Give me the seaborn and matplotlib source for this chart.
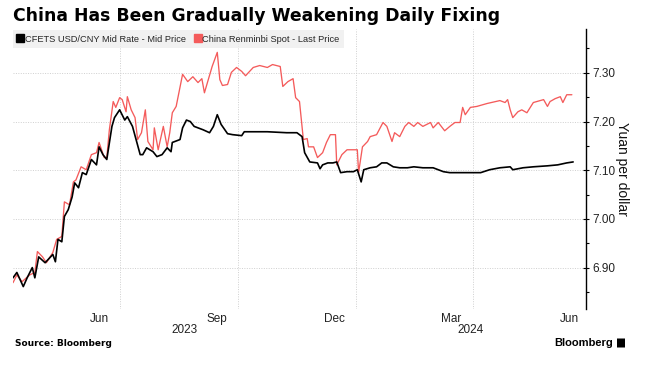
import matplotlib
matplotlib.use("Agg")
import matplotlib.pyplot as plt
import matplotlib.dates as mdates
import matplotlib.ticker as mticker
import matplotlib.transforms as mtransforms
from matplotlib.lines import Line2D
from matplotlib.patches import FancyBboxPatch
import pandas as pd
import seaborn as sns

# ---------------- data ----------------
mid_dates = ["2023-04-09", "2023-04-12", "2023-04-17", "2023-04-20", "2023-04-24", "2023-04-26",
             "2023-04-29", "2023-05-04", "2023-05-10", "2023-05-12", "2023-05-14", "2023-05-17",
             "2023-05-19", "2023-05-22", "2023-05-25", "2023-05-27", "2023-05-30", "2023-06-02",
             "2023-06-05", "2023-06-09", "2023-06-13", "2023-06-15", "2023-06-18", "2023-06-21",
             "2023-06-25", "2023-06-27", "2023-07-01", "2023-07-05", "2023-07-07", "2023-07-11",
             "2023-07-17", "2023-07-19", "2023-07-22", "2023-07-27", "2023-07-30", "2023-08-03",
             "2023-08-07", "2023-08-10", "2023-08-11", "2023-08-17", "2023-08-19", "2023-08-22",
             "2023-08-25", "2023-08-28", "2023-09-04", "2023-09-09", "2023-09-12", "2023-09-15",
             "2023-09-18", "2023-09-23", "2023-09-27", "2023-10-04", "2023-10-06", "2023-10-24",
             "2023-11-08", "2023-11-16", "2023-11-20", "2023-11-22", "2023-11-26", "2023-12-02",
             "2023-12-04", "2023-12-06", "2023-12-10", "2023-12-14", "2023-12-17", "2023-12-20",
             "2023-12-25", "2023-12-30", "2024-01-02", "2024-01-05", "2024-01-07", "2024-01-12",
             "2024-01-17", "2024-01-21", "2024-01-25", "2024-01-30", "2024-02-04", "2024-02-10",
             "2024-02-15", "2024-02-22", "2024-03-01", "2024-03-09", "2024-03-14", "2024-03-20",
             "2024-03-24", "2024-04-07", "2024-04-14", "2024-04-22", "2024-04-30", "2024-05-02",
             "2024-05-10", "2024-05-18", "2024-05-29", "2024-06-06", "2024-06-13", "2024-06-18"]
mid_values = [6.879, 6.890, 6.861, 6.879, 6.900, 6.879,
              6.922, 6.910, 6.927, 6.912, 6.958, 6.953,
              7.005, 7.019, 7.045, 7.074, 7.064, 7.095,
              7.091, 7.122, 7.111, 7.148, 7.132, 7.122,
              7.190, 7.208, 7.224, 7.203, 7.210, 7.190,
              7.132, 7.132, 7.146, 7.138, 7.128, 7.132,
              7.146, 7.138, 7.157, 7.163, 7.187, 7.203,
              7.200, 7.190, 7.183, 7.177, 7.190, 7.214,
              7.194, 7.175, 7.173, 7.171, 7.179, 7.179,
              7.177, 7.177, 7.169, 7.136, 7.117, 7.115,
              7.103, 7.111, 7.115, 7.115, 7.117, 7.095,
              7.097, 7.097, 7.101, 7.076, 7.101, 7.105,
              7.107, 7.115, 7.115, 7.107, 7.105, 7.105,
              7.107, 7.105, 7.105, 7.097, 7.095, 7.095,
              7.095, 7.095, 7.101, 7.105, 7.107, 7.101,
              7.105, 7.107, 7.109, 7.111, 7.115, 7.117]

spot_dates = ["2023-04-09", "2023-04-12", "2023-04-16", "2023-04-22", "2023-04-26", "2023-04-28",
              "2023-05-02", "2023-05-05", "2023-05-10", "2023-05-13", "2023-05-17", "2023-05-19",
              "2023-05-23", "2023-05-26", "2023-05-28", "2023-06-01", "2023-06-05", "2023-06-09",
              "2023-06-13", "2023-06-15", "2023-06-19", "2023-06-21", "2023-06-23", "2023-06-26",
              "2023-06-28", "2023-07-01", "2023-07-03", "2023-07-06", "2023-07-07", "2023-07-10",
              "2023-07-13", "2023-07-15", "2023-07-18", "2023-07-21", "2023-07-23", "2023-07-27",
              "2023-07-28", "2023-07-31", "2023-08-04", "2023-08-07", "2023-08-09", "2023-08-11",
              "2023-08-14", "2023-08-19", "2023-08-23", "2023-08-27", "2023-08-31", "2023-09-03",
              "2023-09-05", "2023-09-11", "2023-09-15", "2023-09-17", "2023-09-19", "2023-09-23",
              "2023-09-26", "2023-09-30", "2023-10-04", "2023-10-07", "2023-10-13", "2023-10-18",
              "2023-10-24", "2023-10-28", "2023-11-03", "2023-11-05", "2023-11-09", "2023-11-13",
              "2023-11-15", "2023-11-18", "2023-11-21", "2023-11-24", "2023-11-25", "2023-11-29",
              "2023-12-02", "2023-12-06", "2023-12-09", "2023-12-12", "2023-12-16", "2023-12-17",
              "2023-12-21", "2023-12-25", "2023-12-29", "2024-01-02", "2024-01-03", "2024-01-06",
              "2024-01-10", "2024-01-12", "2024-01-17", "2024-01-22", "2024-01-25", "2024-01-29",
              "2024-01-31", "2024-02-04", "2024-02-08", "2024-02-11", "2024-02-15", "2024-02-18",
              "2024-02-22", "2024-02-28", "2024-03-01", "2024-03-05", "2024-03-10", "2024-03-14",
              "2024-03-18", "2024-03-22", "2024-03-24", "2024-03-26", "2024-03-30", "2024-04-04",
              "2024-04-12", "2024-04-22", "2024-04-26", "2024-04-28", "2024-04-30", "2024-05-02",
              "2024-05-06", "2024-05-09", "2024-05-13", "2024-05-18", "2024-05-26", "2024-05-29",
              "2024-05-31", "2024-06-04", "2024-06-08", "2024-06-10", "2024-06-13", "2024-06-17"]
spot_values = [6.869, 6.885, 6.871, 6.885, 6.890, 6.933,
               6.922, 6.910, 6.931, 6.958, 6.964, 7.035,
               7.029, 7.076, 7.080, 7.107, 7.101, 7.132,
               7.136, 7.157, 7.126, 7.126, 7.183, 7.241,
               7.229, 7.249, 7.245, 7.220, 7.251, 7.224,
               7.208, 7.163, 7.177, 7.224, 7.159, 7.142,
               7.187, 7.142, 7.190, 7.148, 7.177, 7.218,
               7.231, 7.297, 7.282, 7.292, 7.280, 7.288,
               7.259, 7.313, 7.342, 7.286, 7.274, 7.276,
               7.301, 7.311, 7.303, 7.294, 7.311, 7.315,
               7.311, 7.317, 7.313, 7.272, 7.282, 7.288,
               7.249, 7.241, 7.163, 7.165, 7.148, 7.148,
               7.126, 7.136, 7.157, 7.173, 7.173, 7.111,
               7.132, 7.142, 7.142, 7.142, 7.095, 7.148,
               7.159, 7.169, 7.173, 7.198, 7.190, 7.159,
               7.177, 7.169, 7.190, 7.198, 7.190, 7.198,
               7.190, 7.198, 7.187, 7.198, 7.181, 7.190,
               7.198, 7.198, 7.229, 7.214, 7.229, 7.231,
               7.237, 7.243, 7.239, 7.245, 7.224, 7.208,
               7.220, 7.224, 7.218, 7.239, 7.245, 7.231,
               7.241, 7.247, 7.251, 7.239, 7.255, 7.255]

series_names = ["CFETS USD/CNY Mid Rate - Mid Price", "China Renminbi Spot - Last Price"]
series_colors = ["#000000", "#f45b5b"]
month_tick_dates = ["2023-06-15", "2023-09-15", "2023-12-15", "2024-03-15", "2024-06-15"]
month_tick_labels = ["Jun", "Sep", "Dec", "Mar", "Jun"]
grid_dates = ["2023-07-01", "2023-10-01", "2024-01-01", "2024-04-01"]
y_ticks = [6.90, 7.00, 7.10, 7.20, 7.30]
x_range = ["2023-04-09", "2024-06-28"]
y_range = [6.815, 7.39]

title = "China Has Been Gradually Weakening Daily Fixing"
y_label = "Yuan per dollar"
source = "Source: Bloomberg"

# ---------------- frame ----------------
df = pd.concat([
    pd.DataFrame({"date": pd.to_datetime(mid_dates), "value": mid_values, "series": series_names[0]}),
    pd.DataFrame({"date": pd.to_datetime(spot_dates), "value": spot_values, "series": series_names[1]}),
], ignore_index=True)

sns.set_style("white")
plt.rcParams["font.family"] = ["Liberation Sans", "DejaVu Sans"]

fig = plt.figure(figsize=(6.55, 3.69), dpi=100)
ax = fig.add_axes([13 / 655, 1 - 309 / 369, (586 - 13) / 655, (309 - 29) / 369])

palette = dict(zip(series_names, series_colors))
sns.lineplot(data=df, x="date", y="value", hue="series", hue_order=series_names[::-1],
             palette=palette, ax=ax, legend=False, estimator=None, sort=True)
for ln in ax.get_lines():
    if ln.get_color() in ("#000000", (0.0, 0.0, 0.0, 1.0)):
        ln.set_linewidth(1.2)
        ln.set_zorder(3)
    else:
        ln.set_linewidth(0.95)
        ln.set_zorder(2)

ax.set_xlim(pd.to_datetime(x_range[0]), pd.to_datetime(x_range[1]))
ax.set_ylim(*y_range)

# spines
for s in ["left", "top", "bottom"]:
    ax.spines[s].set_visible(False)
ax.spines["right"].set_visible(True)
ax.spines["right"].set_color("#000000")
ax.spines["right"].set_linewidth(1.0)

# y axis on right
ax.yaxis.tick_right()
ax.yaxis.set_label_position("right")
ax.set_yticks(y_ticks)
ax.yaxis.set_major_formatter(mticker.FormatStrFormatter("%.2f"))
ax.yaxis.set_minor_locator(mticker.MultipleLocator(0.05))
ax.tick_params(axis="y", which="major", direction="inout", length=5, width=0.8,
               labelsize=8.5, pad=2, colors="#000000", right=True, left=False)
ax.tick_params(axis="y", which="minor", direction="out", length=2.5, width=0.8,
               right=True, left=False, colors="#000000")
for lab in ax.get_yticklabels():
    lab.set_color("#222222")
ax.set_ylabel(y_label, rotation=270, labelpad=10, fontsize=10, color="#111111")

# x axis: gridlines at quarter starts, labels mid-month
ax.set_xticks(pd.to_datetime(grid_dates))
ax.set_xticklabels([])
ax.set_xticks(pd.to_datetime(month_tick_dates), minor=True)
ax.set_xticklabels(month_tick_labels, minor=True)
ax.tick_params(axis="x", which="both", length=0, labelsize=8.5, pad=3, colors="#222222")
ax.set_xlabel("")

ax.grid(False)
ax.xaxis.grid(True, which="major", linestyle=(0, (1, 1.5)), color="#cfcfcf", linewidth=0.7)
ax.yaxis.grid(True, which="major", linestyle=(0, (1, 1.5)), color="#cfcfcf", linewidth=0.7)
ax.set_axisbelow(True)

# year labels centred over visible part of each year
xl0, xl1 = ax.get_xlim()
jan = mdates.date2num(pd.to_datetime("2024-01-01"))
trans = mtransforms.blended_transform_factory(ax.transData, fig.transFigure)
ax.text((xl0 + jan) / 2, 1 - 330 / 369, "2023", transform=trans, ha="center", va="center",
        fontsize=8.5, color="#222222")
ax.text((jan + xl1) / 2, 1 - 330 / 369, "2024", transform=trans, ha="center", va="center",
        fontsize=8.5, color="#222222")

# legend
handles = [Line2D([], [], marker="s", linestyle="none", markersize=5.5, color=c) for c in series_colors]
leg = ax.legend(handles, series_names, loc="upper left", bbox_to_anchor=(0, 0.995), ncol=2,
                frameon=True, fontsize=6.7, handlelength=0.6, handletextpad=0.2, columnspacing=1.0,
                borderpad=0.45, borderaxespad=0.0)
leg.get_frame().set_facecolor("#eeeeee")
leg.get_frame().set_edgecolor("none")
leg.get_frame().set_boxstyle("square", pad=0)
leg.set_zorder(5)

# title and footer
fig.text(13 / 655, 1 - 16 / 369, title, ha="left", va="center", fontsize=12.4, fontweight="bold",
         family=["DejaVu Sans"], color="#000000")
fig.text(15 / 655, 1 - 343 / 369, source, ha="left", va="center", fontsize=6.5, fontweight="bold",
         family=["DejaVu Sans"], color="#000000")
fig.text(613 / 655, 1 - 343 / 369, "Bloomberg", ha="right", va="center", fontsize=8,
         fontweight="bold", family=["Liberation Sans"], color="#000000")
fig.patches.append(FancyBboxPatch((617 / 655, 1 - 347.5 / 369), 8 / 655, 9 / 369,
                                  boxstyle="round,pad=0", transform=fig.transFigure,
                                  facecolor="#000000", edgecolor="none"))

fig.savefig("out.png", dpi=100)
